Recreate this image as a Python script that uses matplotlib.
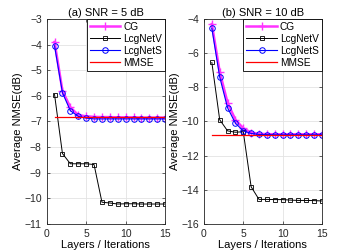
import matplotlib
matplotlib.use('Agg')
import matplotlib.pyplot as plt

plt.rcParams['font.family'] = ['Liberation Sans', 'DejaVu Sans']

layers = list(range(1, 16))

# (a) SNR = 5 dB
cg_a = [-3.9, -5.8, -6.45, -6.75, -6.8, -6.82, -6.83, -6.83, -6.84, -6.84, -6.84, -6.85, -6.85, -6.85, -6.85]
lcgv_a = [-5.95, -8.25, -8.65, -8.65, -8.65, -8.68, -10.15, -10.18, -10.22, -10.21, -10.21, -10.22, -10.22, -10.22, -10.22]
lcgs_a = [-4.05, -5.88, -6.58, -6.8, -6.87, -6.9, -6.9, -6.9, -6.9, -6.9, -6.9, -6.9, -6.9, -6.9, -6.9]
mmse_a = -6.83

# (b) SNR = 10 dB
cg_b = [-4.3, -7.1, -8.9, -9.9, -10.4, -10.65, -10.72, -10.74, -10.75, -10.75, -10.75, -10.75, -10.75, -10.75, -10.75]
lcgv_b = [-6.55, -9.9, -10.55, -10.63, -10.6, -13.82, -14.56, -14.56, -14.57, -14.57, -14.6, -14.62, -14.62, -14.63, -14.65]
lcgs_b = [-4.55, -7.4, -9.2, -10.1, -10.55, -10.7, -10.76, -10.77, -10.78, -10.78, -10.78, -10.78, -10.78, -10.78, -10.78]
mmse_b = -10.78

fig = plt.figure(figsize=(3.56, 2.52), dpi=100)
ax1 = fig.add_axes([0.131, 0.111, 0.333, 0.814])
ax2 = fig.add_axes([0.573, 0.111, 0.331, 0.814])

panels = [
    (ax1, cg_a, lcgv_a, lcgs_a, mmse_a, '(a) SNR = 5 dB', (-11, -3), range(-11, -2)),
    (ax2, cg_b, lcgv_b, lcgs_b, mmse_b, '(b) SNR = 10 dB', (-16, -4), range(-16, -3, 2)),
]

for ax, cg, lcgv, lcgs, mmse, title, ylim, yticks in panels:
    ax.plot(layers, cg, color='#ff33ff', marker='+', lw=1.8, ms=6, mew=1, label='CG')
    ax.plot(layers, lcgv, color='black', marker='s', lw=0.7, ms=3.5, mfc='none', mew=0.6, label='LcgNetV')
    ax.plot(layers, lcgs, color='blue', marker='o', lw=0.8, ms=4, mfc='none', mew=0.7, label='LcgNetS')
    ax.plot([layers[0], layers[-1]], [mmse, mmse], color='red', lw=0.9, label='MMSE')
    ax.set_xlim(0, 15)
    ax.set_ylim(*ylim)
    ax.set_xticks([0, 5, 10, 15])
    ax.set_yticks(list(yticks))
    ax.grid(True, color='#e3e3e3', lw=0.6)
    ax.set_axisbelow(True)
    ax.tick_params(labelsize=7.5, direction='in', length=2, width=0.5, top=True, right=True,
                   colors='#262626')
    for s in ax.spines.values():
        s.set_linewidth(0.6)
        s.set_color('#262626')
    ax.set_title(title, fontsize=8, pad=2)
    ax.set_xlabel('Layers / Iterations', fontsize=8, labelpad=1)
    ax.set_ylabel('Average NMSE(dB)', fontsize=8, labelpad=1)
    leg = ax.legend(loc='upper right', fontsize=7.3, fancybox=False, borderaxespad=0,
                    handlelength=3.0, handletextpad=0.3, borderpad=0.3, labelspacing=0.2,
                    edgecolor='black', framealpha=1)
    leg.get_frame().set_linewidth(0.6)

plt.savefig('out.png', dpi=100)
